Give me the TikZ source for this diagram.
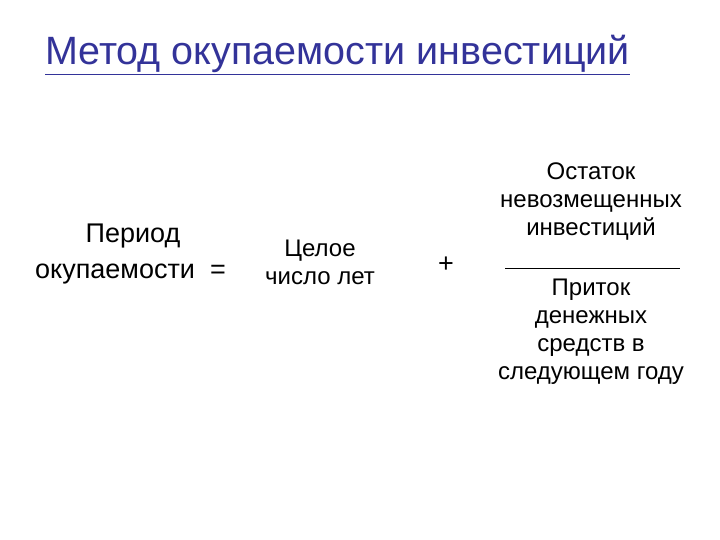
\documentclass[tikz,border=0pt]{standalone}
\usepackage{fontspec}
\setmainfont{Liberation Sans}
\definecolor{titleblue}{HTML}{333399}
\begin{document}
\begin{tikzpicture}[x=1pt,y=-1pt,
  big/.style={font=\fontsize{27}{32}\selectfont,inner sep=0pt},
  mid/.style={font=\fontsize{24}{28}\selectfont,align=center,inner sep=0pt}]
\useasboundingbox (0,0) rectangle (720,540);
\node[anchor=base west,inner sep=0pt,text=titleblue,font=\fontsize{39.5}{44}\selectfont] (title) at (45,65) {Метод окупаемости инвестиций};
\draw[titleblue,line width=1.2pt] (title.south west)++(0,1) coordinate (u1) -- (title.south east|-u1);
\node[big,anchor=base] (p1) at (133,243) {Период};
\node[big,anchor=base west] (p2) at (35,278) {окупаемости\ \ =};
\node[mid,anchor=north] (c) at (320,240) {Целое\\число лет};
\node[big] (plus) at (446,265) {+};
\node[mid,anchor=north] (n) at (591,163) {Остаток\\невозмещенных\\инвестиций};
\coordinate (l1) at (505,268); \coordinate (l2) at (680,268);
\draw[line width=1pt] (l1) -- (l2);
\node[mid,anchor=north] (d) at (591,279) {Приток\\денежных\\средств в\\следующем году};
\end{tikzpicture}
\end{document}
